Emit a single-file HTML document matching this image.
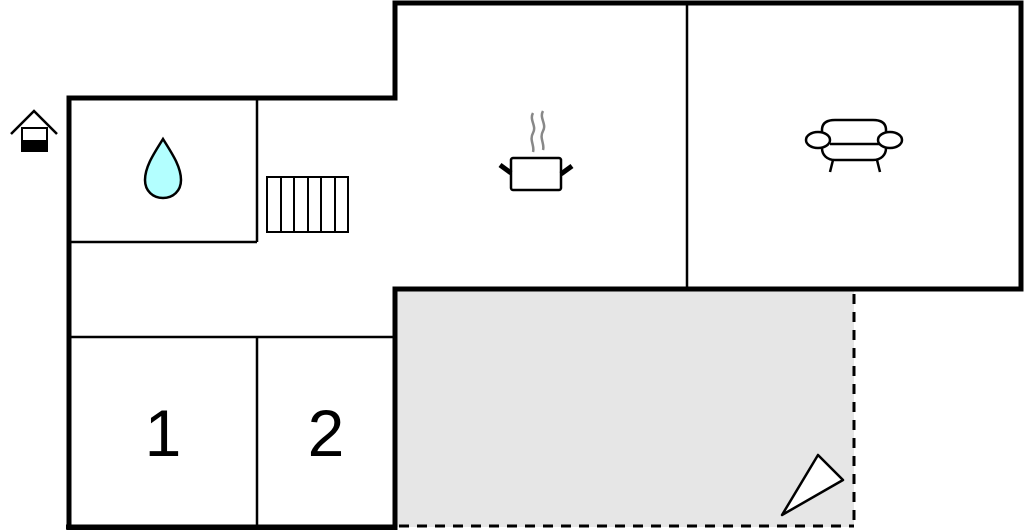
<!DOCTYPE html>
<html><head><meta charset="utf-8"><style>
html,body{margin:0;padding:0;background:#fff;width:1024px;height:530px;overflow:hidden}
svg{display:block}
</style></head><body>
<svg width="1024" height="530" viewBox="0 0 1024 530" xmlns="http://www.w3.org/2000/svg">
<rect x="397" y="291" width="457" height="236" fill="#e6e6e6"/>
<g stroke="#000" stroke-width="2.5" fill="none">
<line x1="257" y1="98" x2="257" y2="242"/>
<line x1="69" y1="242" x2="257" y2="242"/>
<line x1="687" y1="3" x2="687" y2="289"/>
<line x1="69" y1="337" x2="395" y2="337"/>
<line x1="257" y1="337" x2="257" y2="528"/>
</g>
<g stroke="#000" stroke-width="3" fill="none" stroke-dasharray="10,8">
<line x1="854" y1="294" x2="854" y2="527"/>
<line x1="399" y1="526" x2="854" y2="526"/>
</g>
<path d="M69,528 V98 H395 V3 H1021 V289 H395 V528 Z" fill="none" stroke="#000" stroke-width="5" stroke-linejoin="miter"/>
<line x1="66" y1="527" x2="397" y2="527" stroke="#000" stroke-width="5"/>
<!-- triangle -->
<polygon points="782,515 818,455 843,480" fill="#fff" stroke="#000" stroke-width="2.5" stroke-linejoin="round"/>
<!-- labels -->
<text x="163" y="456" font-family="Liberation Sans, sans-serif" font-size="66" text-anchor="middle">1</text>
<text x="326" y="456" font-family="Liberation Sans, sans-serif" font-size="66" text-anchor="middle">2</text>
<!-- stairs -->
<g stroke="#000" stroke-width="2" fill="none">
<rect x="267" y="177" width="81" height="55"/>
<line x1="281" y1="177" x2="281" y2="232"/>
<line x1="294" y1="177" x2="294" y2="232"/>
<line x1="308" y1="177" x2="308" y2="232"/>
<line x1="321" y1="177" x2="321" y2="232"/>
<line x1="335" y1="177" x2="335" y2="232"/>
</g>
<!-- drop -->
<path d="M163,139 C155,152 145,166 145,180 C145,191 153,198 163,198 C173,198 181,191 181,180 C181,166 171,152 163,139 Z" fill="#b3ffff" stroke="#000" stroke-width="2.5"/>
<!-- entrance icon -->
<polyline points="11,134 34,111 57,134" fill="none" stroke="#000" stroke-width="2.5"/>
<rect x="22" y="128" width="25" height="23" fill="#fff" stroke="#000" stroke-width="2"/>
<rect x="21" y="140" width="27" height="12" fill="#000"/>
<!-- pot -->
<g fill="none">
<path d="M533,113 C529,120 537,126 533,133 C529,140 535,146 533,152" stroke="#888" stroke-width="2.5"/>
<path d="M543,111 C539,118 547,124 543,131 C539,138 545,144 543,150" stroke="#888" stroke-width="2.5"/>
<rect x="511" y="158" width="50" height="32" rx="2" stroke="#000" stroke-width="2.5" fill="#fff"/>
<line x1="500" y1="165" x2="511" y2="173" stroke="#000" stroke-width="5"/>
<line x1="572" y1="166" x2="561" y2="174" stroke="#000" stroke-width="5"/>
</g>
<!-- sofa -->
<g fill="#fff" stroke="#000" stroke-width="2.5">
<line x1="833" y1="160" x2="830" y2="172"/>
<line x1="877" y1="160" x2="880" y2="172"/>
<path d="M822,140 V130 C822,123 827,120 835,120 H873 C881,120 886,123 886,130 V140 V148 C886,155 881,160 873,160 H835 C827,160 822,155 822,148 Z"/>
<line x1="830" y1="144" x2="880" y2="144"/>
<ellipse cx="818" cy="140" rx="12" ry="8"/>
<ellipse cx="890" cy="140" rx="12" ry="8"/>
</g>
</svg>
</body></html>
